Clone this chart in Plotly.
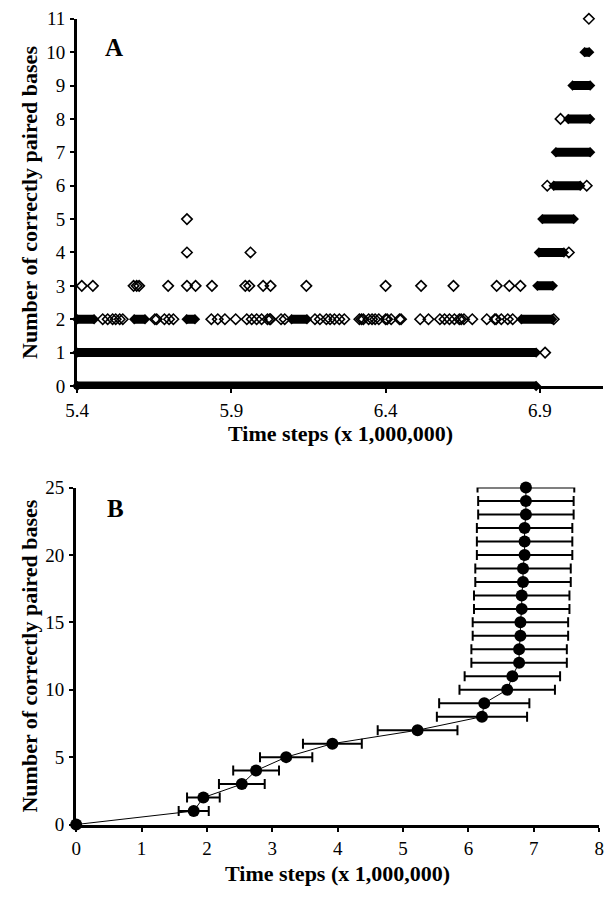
import plotly.graph_objects as go

# ---------------- Panel A data ----------------
# dense runs of overlapping markers: level, start, end (marker centres)
run_level = [0, 1, 2, 2, 2, 2, 2, 3, 4, 5, 6, 7, 8, 9, 10]
run_start = [5.40, 5.40, 5.40, 5.585, 5.755, 6.095, 6.840, 6.892, 6.897, 6.908, 6.945, 6.952, 6.992, 7.006, 7.045]
run_end   = [6.888, 6.888, 5.455, 5.620, 5.782, 6.145, 6.940, 6.942, 6.978, 7.010, 7.031, 7.063, 7.063, 7.063, 7.060]

# individual open-diamond points per level
pt_x_1 = [6.917]
pt_x_2 = [5.483, 5.499, 5.515, 5.525, 5.538, 5.548, 5.652, 5.658, 5.683, 5.698, 5.712,
          5.835, 5.856, 5.879, 5.914, 5.950, 5.966, 5.982, 5.998, 6.017, 6.024, 6.027,
          6.061, 6.073, 6.171, 6.187, 6.208, 6.220, 6.234, 6.250, 6.266,
          6.315, 6.322, 6.328, 6.345, 6.356, 6.366, 6.378, 6.400, 6.405, 6.418,
          6.445, 6.450, 6.512, 6.539, 6.576, 6.591, 6.607, 6.623, 6.639, 6.645,
          6.654, 6.681, 6.728, 6.754, 6.758, 6.775, 6.796, 6.812, 6.945]
pt_x_3 = [5.415, 5.451, 5.583, 5.593, 5.601, 5.695, 5.756, 5.784, 5.837, 5.945,
          5.958, 6.003, 6.027, 6.143, 6.400, 6.515, 6.620, 6.760, 6.801, 6.837]
pt_x_4 = [5.756, 5.962, 6.994]
pt_x_5 = [5.756]
pt_x_6 = [6.924, 7.052]
pt_x_8 = [6.967]
pt_x_11 = [7.059]

a_xticks = [5.4, 5.9, 6.4, 6.9]
a_yticks = list(range(0, 12))

# ---------------- Panel B data ----------------
b_y = list(range(0, 26))
b_x = [0.0, 1.798, 1.946, 2.534, 2.752, 3.212, 3.919, 5.222, 6.207, 6.242, 6.593, 6.672,
       6.775, 6.775, 6.795, 6.795, 6.815, 6.815, 6.835, 6.835, 6.859, 6.859, 6.859,
       6.879, 6.879, 6.879]
b_err = [0.0, 0.23, 0.25, 0.35, 0.35, 0.40, 0.45, 0.61, 0.69, 0.69, 0.73, 0.73,
         0.73, 0.73, 0.73, 0.73, 0.73, 0.73, 0.73, 0.73, 0.73, 0.73, 0.73,
         0.73, 0.73, 0.74]
b_xticks = list(range(0, 9))
b_yticks = [0, 5, 10, 15, 20, 25]

FONT = "Liberation Serif"
W, H = 611, 899

def px(x):
    return x / W

def py(y):
    return 1 - y / H

fig = go.Figure()

# runs as thick bands with pointed diamond ends
lx, ly, ex, ey = [], [], [], []
for lv, s, e in zip(run_level, run_start, run_end):
    lx += [s, e, None]
    ly += [lv, lv, None]
    ex += [s, e]
    ey += [lv, lv]
fig.add_trace(go.Scatter(x=lx, y=ly, mode="lines", line=dict(color="black", width=9),
                         xaxis="x", yaxis="y", showlegend=False, hoverinfo="skip", cliponaxis=False))
fig.add_trace(go.Scatter(x=ex, y=ey, mode="markers",
                         marker=dict(symbol="diamond", size=8, color="black"),
                         xaxis="x", yaxis="y", showlegend=False, cliponaxis=False))

pts_x, pts_y = [], []
for lv, xs in [(1, pt_x_1), (2, pt_x_2), (3, pt_x_3), (4, pt_x_4), (5, pt_x_5),
               (6, pt_x_6), (8, pt_x_8), (11, pt_x_11)]:
    pts_x += xs
    pts_y += [lv] * len(xs)
fig.add_trace(go.Scatter(x=pts_x, y=pts_y, mode="markers",
                         marker=dict(symbol="diamond-open", size=8, color="black",
                                     line=dict(width=1.6, color="black")),
                         xaxis="x", yaxis="y", showlegend=False, cliponaxis=False))

# Panel B
fig.add_trace(go.Scatter(x=b_x, y=b_y, mode="lines+markers",
                         line=dict(color="black", width=1),
                         marker=dict(symbol="circle", size=12, color="black"),
                         error_x=dict(type="data", array=b_err, visible=True,
                                      color="black", thickness=2, width=5),
                         xaxis="x2", yaxis="y2", showlegend=False, cliponaxis=False))

tickfont = dict(family=FONT, size=19, color="black")
axis_common = dict(showline=True, linecolor="black", linewidth=3, ticks="outside",
                   ticklen=4, tickwidth=2, tickcolor="black", showgrid=False,
                   zeroline=False, tickfont=tickfont, ticklabelstandoff=1)

A_x0, A_x1, A_ytop, A_ybot = 67, 608, 9, 385
B_x0, B_x1, B_ytop, B_ybot = 66, 604, 489, 834

fig.update_layout(
    width=W, height=H, margin=dict(l=0, r=0, t=0, b=0),
    plot_bgcolor="white", paper_bgcolor="white",
    xaxis=dict(domain=[px(A_x0), px(A_x1)], range=[5.4, 7.105], tickvals=a_xticks,
               ticktext=[f"{v:.1f}" for v in a_xticks], anchor="y", **axis_common),
    yaxis=dict(domain=[py(A_ybot), py(A_ytop)], range=[0, 11], tickvals=a_yticks,
               anchor="x", **axis_common),
    xaxis2=dict(domain=[px(B_x0), px(B_x1)], range=[0, 8], tickvals=b_xticks,
                anchor="y2", **axis_common),
    yaxis2=dict(domain=[py(B_ybot), py(B_ytop)], range=[0, 25], tickvals=b_yticks,
                anchor="x2", **axis_common),
)

title_font = dict(family=FONT, size=22, color="black")
ytitle = "<b>Number of correctly paired bases</b>"
xtitle = "<b>Time steps (x 1,000,000)</b>"
ann = [
    dict(text=ytitle, x=px(18), y=py((A_ytop + A_ybot) / 2), textangle=-90),
    dict(text=ytitle, x=px(18), y=py((B_ytop + B_ybot) / 2), textangle=-90),
    dict(text=xtitle, x=px((A_x0 + A_x1) / 2), y=py(434)),
    dict(text=xtitle, x=px((B_x0 + B_x1) / 2), y=py(884)),
]
for a in ann:
    fig.add_annotation(xref="paper", yref="paper", showarrow=False, font=title_font,
                       xanchor="center", yanchor="middle", **a)
fig.add_annotation(text="<b>A</b>", xref="paper", yref="paper", x=px(94), y=py(23),
                   showarrow=False, font=dict(family=FONT, size=25, color="black"))
fig.add_annotation(text="<b>B</b>", xref="paper", yref="paper", x=px(96), y=py(510),
                   showarrow=False, font=dict(family=FONT, size=25, color="black"))

fig.write_html("out.html", config={"displayModeBar": False},
               post_script="document.body.style.margin='0';document.body.style.overflow='hidden';")
